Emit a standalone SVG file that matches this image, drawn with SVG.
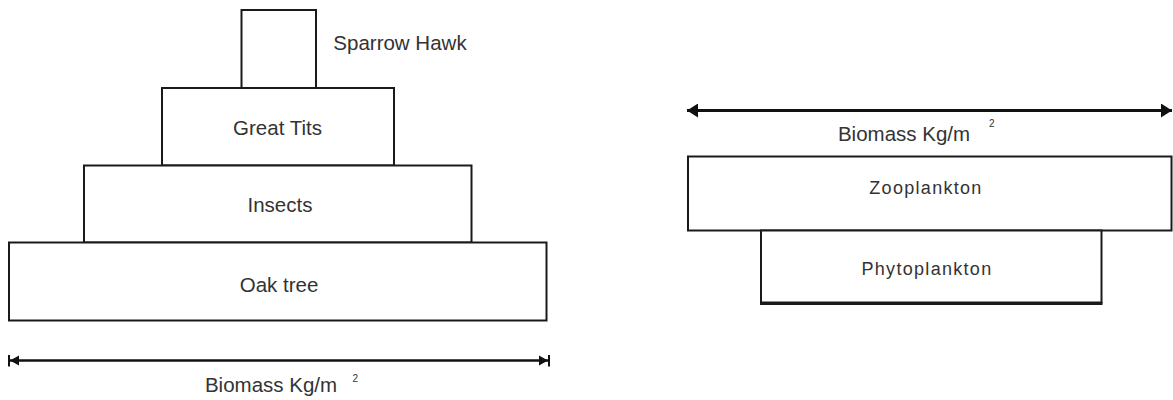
<svg xmlns="http://www.w3.org/2000/svg" width="1173" height="400" viewBox="0 0 1173 400">
  <style>
    .box { fill: #ffffff; stroke: #1a1a1a; stroke-width: 2; }
    .lbl { font-family: "Liberation Sans", Arial, sans-serif; font-size: 20.5px; fill: #333333; text-anchor: middle; }
    .lbl-sp { font-family: "Liberation Sans", Arial, sans-serif; font-size: 18px; letter-spacing: 1.3px; fill: #333333; text-anchor: middle; }
    .sup { font-family: "Liberation Sans", Arial, sans-serif; font-size: 10px; fill: #333333; }
    .axis { stroke: #111111; fill: none; }
  </style>
  <defs>
    <!-- filled triangular head -->
    <marker id="head" viewBox="0 0 11 14" refX="11" refY="7" markerWidth="11" markerHeight="14" markerUnits="userSpaceOnUse" orient="auto-start-reverse">
      <path d="M0,0 L11,7 L0,14 Z" fill="#111111"/>
    </marker>
    <!-- triangular head ending at a stop bar -->
    <marker id="headBar" viewBox="0 0 11 12" refX="11" refY="6" markerWidth="11" markerHeight="12" markerUnits="userSpaceOnUse" orient="auto-start-reverse">
      <path d="M0,1 L9,6 L0,11 Z" fill="#111111"/>
      <rect x="9" y="0" width="2" height="12" fill="#111111"/>
    </marker>
  </defs>

  <!-- Terrestrial pyramid of biomass -->
  <g id="sparrow-hawk">
    <rect class="box" x="241.5" y="10" width="74.5" height="78"/>
    <text class="lbl" x="400" y="49.5">Sparrow Hawk</text>
  </g>
  <g id="great-tits">
    <rect class="box" x="162" y="88" width="232" height="77.5"/>
    <text class="lbl" x="277.5" y="135">Great Tits</text>
  </g>
  <g id="insects">
    <rect class="box" x="84" y="165.5" width="387.5" height="77"/>
    <text class="lbl" x="280" y="211.5">Insects</text>
  </g>
  <g id="oak-tree">
    <rect class="box" x="9" y="242.5" width="537.5" height="78"/>
    <text class="lbl" x="279" y="291.5">Oak tree</text>
  </g>

  <!-- Marine pyramid of biomass (inverted) -->
  <g id="zooplankton">
    <rect class="box" x="688" y="156.5" width="483.5" height="74"/>
    <text class="lbl-sp" x="926" y="194">Zooplankton</text>
  </g>
  <g id="phytoplankton">
    <rect class="box" x="761" y="230.5" width="340.5" height="72"/>
    <line x1="760" y1="303.5" x2="1102.5" y2="303.5" stroke="#1a1a1a" stroke-width="3"/>
    <text class="lbl-sp" x="927" y="275">Phytoplankton</text>
  </g>

  <!-- Biomass axes -->
  <g id="connectors">
    <line class="axis" x1="8" y1="360.5" x2="550" y2="360.5" stroke-width="2.5" marker-start="url(#headBar)" marker-end="url(#headBar)"/>
    <line class="axis" x1="687" y1="110.5" x2="1172" y2="110.5" stroke-width="3" marker-start="url(#head)" marker-end="url(#head)"/>
  </g>

  <g id="axis-labels">
    <text class="lbl" x="271" y="392">Biomass Kg/m</text>
    <text class="sup" x="352.5" y="382">2</text>
    <text class="lbl" x="904" y="140.5">Biomass Kg/m</text>
    <text class="sup" x="989" y="127">2</text>
  </g>
</svg>
